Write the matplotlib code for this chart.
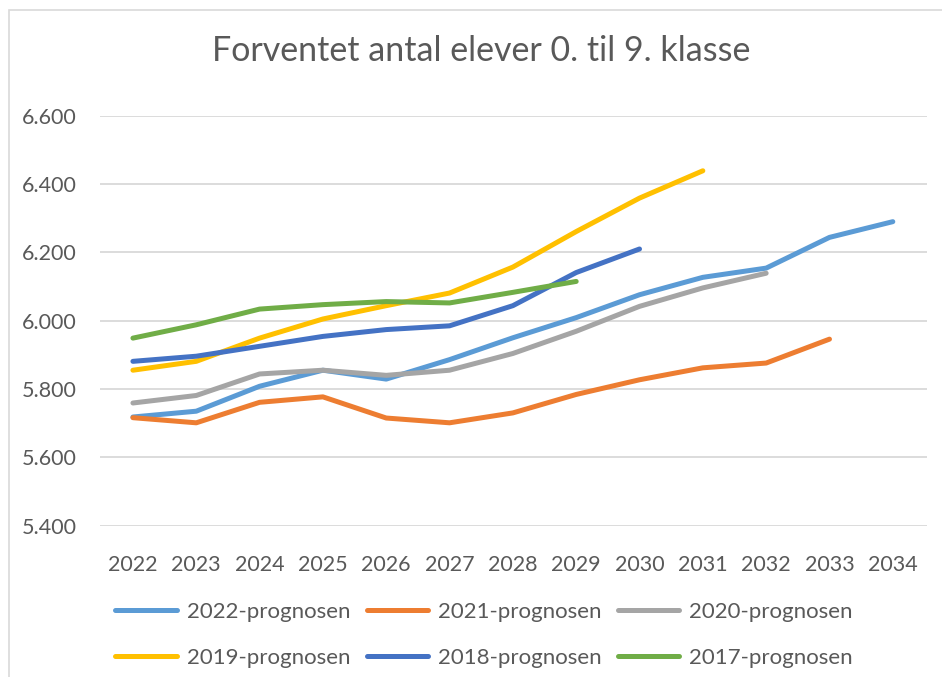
import matplotlib
matplotlib.use("Agg")
import matplotlib.pyplot as plt
from matplotlib.patches import Rectangle

plt.rcParams['font.family'] = ['Lato', 'DejaVu Sans']

YEARS = list(range(2022, 2035))

P2022 = [5718, 5735, 5808, 5855, 5829, 5886, 5950, 6009, 6076, 6127, 6154, 6244, 6290]
P2021 = [5716, 5701, 5761, 5777, 5715, 5701, 5730, 5784, 5827, 5862, 5876, 5946]
P2020 = [5759, 5781, 5844, 5855, 5840, 5855, 5904, 5969, 6042, 6096, 6139]
P2019 = [5855, 5881, 5949, 6005, 6044, 6081, 6157, 6261, 6359, 6439]
P2018 = [5881, 5896, 5925, 5954, 5974, 5985, 6044, 6141, 6210]
P2017 = [5949, 5988, 6034, 6047, 6056, 6052, 6083, 6115]

SERIES = [
    ("2022-prognosen", P2022, "#5B9BD5"),
    ("2021-prognosen", P2021, "#ED7D31"),
    ("2020-prognosen", P2020, "#A5A5A5"),
    ("2019-prognosen", P2019, "#FFC000"),
    ("2018-prognosen", P2018, "#4472C4"),
    ("2017-prognosen", P2017, "#70AD47"),
]

Y_TICKS = [5400, 5600, 5800, 6000, 6200, 6400, 6600]
TEXT = "#595959"

fig = plt.figure(figsize=(9.42, 6.77), dpi=100)
fig.patches.append(Rectangle((9 / 942, -0.1), 1.2, 1.1 - 10 / 677,
                             transform=fig.transFigure, fill=False,
                             edgecolor="#D9D9D9", linewidth=1.2))
ax = fig.add_axes([100 / 942, 1 - 525.6 / 677, 827 / 942, (525.6 - 115.8) / 677])

lines = []
for label, vals, color in SERIES:
    ln, = ax.plot(YEARS[:len(vals)], vals, color=color, linewidth=3.6,
                  solid_capstyle="round", solid_joinstyle="round", label=label)
    lines.append(ln)

ax.set_xlim(2021.48, 2034.54)
ax.set_ylim(5400, 6600)
ax.set_yticks(Y_TICKS)
ax.set_yticklabels([f"{v / 1000:.3f}" for v in Y_TICKS])
ax.set_xticks(YEARS)
ax.set_xticklabels([str(y) for y in YEARS])
ax.tick_params(length=0, labelsize=15.5, colors=TEXT)
ax.tick_params(axis="y", pad=16.5)
ax.tick_params(axis="x", pad=21)
ax.grid(axis="y", color="#D9D9D9", linewidth=1.3)
ax.set_axisbelow(True)
for s in ax.spines.values():
    s.set_visible(False)

fig.text(0.511, 1 - 51 / 677, "Forventet antal elever 0. til 9. klasse",
         ha="center", va="center", fontsize=24.5, color=TEXT)

# legend fills column-wise, so reorder to read row-wise like the original
order = [0, 3, 1, 4, 2, 5]
fig.legend([lines[i] for i in order], [SERIES[i][0] for i in order],
           loc="center", bbox_to_anchor=(0.514, 1 - 635 / 677), ncol=3,
           frameon=False, fontsize=16, handlelength=2.75, handletextpad=0.45,
           columnspacing=0.75, labelspacing=1.15, labelcolor=TEXT)

fig.savefig("out.png", dpi=100)
